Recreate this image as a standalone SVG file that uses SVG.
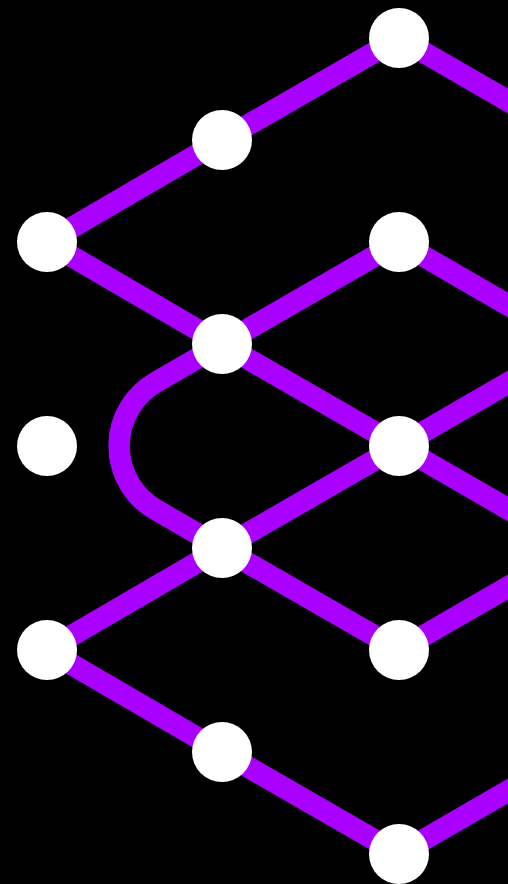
<svg xmlns="http://www.w3.org/2000/svg" width="508" height="884" viewBox="0 0 508 884">
<style>
.c{stroke:#aa00ff;stroke-width:21.5;fill:none;stroke-linecap:butt;stroke-linejoin:round}
.n{fill:#ffffff}
</style>
<rect width="508" height="884" fill="#000000"/>
<g id="connectors">
<path class="c" d="M222,140 L399,38 L560,131"/>
<path class="c" d="M47,242 L222,140"/>
<path class="c" d="M47,242 L222,344 L399,242 L560,335"/>
<path class="c" d="M222,344 L399,446 L560,539"/>
<path class="c" d="M222,548 L399,446 L560,353"/>
<path class="c" d="M222,344 L155.9,382.2 A73.7,73.7 0 0 0 155.9,509.8 L222,548"/>
<path class="c" d="M47,650 L222,548 L399,650 L560,557"/>
<path class="c" d="M47,650 L222,752 L399,854 L560,761"/>
</g>
<g id="n1"><circle class="n" cx="399" cy="38" r="30"/></g>
<g id="n2"><circle class="n" cx="222" cy="140" r="30"/></g>
<g id="n3"><circle class="n" cx="47" cy="242" r="30"/></g>
<g id="n4"><circle class="n" cx="399" cy="242" r="30"/></g>
<g id="n5"><circle class="n" cx="222" cy="344" r="30"/></g>
<g id="n6"><circle class="n" cx="47" cy="446" r="30"/></g>
<g id="n7"><circle class="n" cx="399" cy="446" r="30"/></g>
<g id="n8"><circle class="n" cx="222" cy="548" r="30"/></g>
<g id="n9"><circle class="n" cx="47" cy="650" r="30"/></g>
<g id="n10"><circle class="n" cx="399" cy="650" r="30"/></g>
<g id="n11"><circle class="n" cx="222" cy="752" r="30"/></g>
<g id="n12"><circle class="n" cx="399" cy="854" r="30"/></g>
</svg>
